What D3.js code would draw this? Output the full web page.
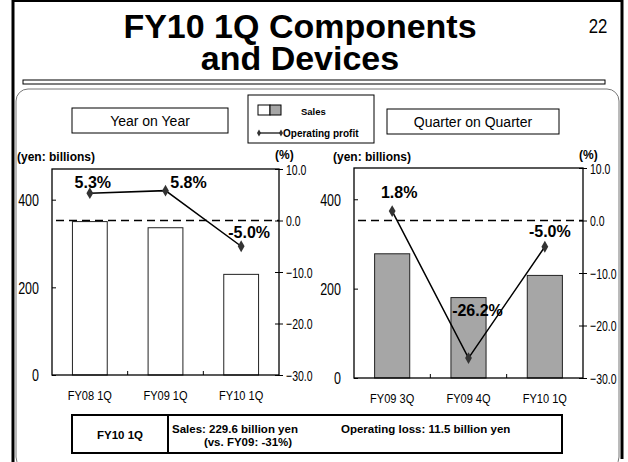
<!DOCTYPE html>
<html>
<head>
<meta charset="utf-8">
<script src="https://cdn.jsdelivr.net/npm/d3@7"></script>
<style>
  body { margin: 0; background: #fff; }
  svg { display: block; font-family: "Liberation Sans", Arial, sans-serif; }
  .num { font-family: "Liberation Sans", Arial, sans-serif; font-size: 16px; }
  .bold { font-weight: bold; }
</style>
</head>
<body>
<svg id="slide" width="628" height="462"></svg>
<script>
// Data
const yoyCategories = ["FY08 1Q", "FY09 1Q", "FY10 1Q"];
const yoySales = [350, 336, 229.6];
const yoyProfit = [5.3, 5.8, -5.0];

const qoqCategories = ["FY09 3Q", "FY09 4Q", "FY10 1Q"];
const qoqSales = [278, 180, 229.6];
const qoqProfit = [1.8, -26.2, -5.0];

const salesTicks = [0, 200, 400];
const pctTicks = [10, 0, -10, -20, -30];
const salesMax = 470;

let svg = d3.select("#slide");

// squeeze a text horizontally, like the narrow font of the original
function narrow(sel, f) {
    sel.each(function() {
        let len = this.getComputedTextLength();
        d3.select(this).attr("textLength", len * f).attr("lengthAdjust", "spacingAndGlyphs");
    });
}

// slide frame
svg.append("line").attr("x1", 12).attr("x2", 623).attr("y1", 1).attr("y2", 1)
    .attr("stroke", "#000").attr("stroke-width", 2);
svg.append("line").attr("x1", 13).attr("x2", 13).attr("y1", 0).attr("y2", 462)
    .attr("stroke", "#000").attr("stroke-width", 3);
svg.append("line").attr("x1", 622).attr("x2", 622).attr("y1", 0).attr("y2", 459)
    .attr("stroke", "#000").attr("stroke-width", 3);

// title
svg.append("text").attr("x", 300).attr("y", 38).attr("text-anchor", "middle")
    .attr("class", "bold").style("font-size", "33px").text("FY10 1Q Components").call(narrow, 1.03);
svg.append("text").attr("x", 300).attr("y", 70).attr("text-anchor", "middle")
    .attr("class", "bold").style("font-size", "33px").text("and Devices").call(narrow, 1.03);
svg.append("text").attr("x", 598).attr("y", 33).attr("text-anchor", "middle")
    .style("font-size", "21px").text("22").call(narrow, 0.8);

// bar under the title
svg.append("rect").attr("x", 23).attr("y", 80).attr("width", 582).attr("height", 4)
    .attr("fill", "#fff").attr("stroke", "#000").attr("stroke-width", 1);

// rounded panel
svg.append("rect").attr("x", 16).attr("y", 89).attr("width", 603).attr("height", 380)
    .attr("rx", 12).attr("fill", "none").attr("stroke", "#777").attr("stroke-width", 1);

// header boxes
function labelBox(x, y, w, h, txt) {
    svg.append("rect").attr("x", x).attr("y", y).attr("width", w).attr("height", h)
        .attr("fill", "#fff").attr("stroke", "#000").attr("stroke-width", 1);
    svg.append("text").attr("x", x + w / 2).attr("y", y + h / 2 + 5)
        .attr("text-anchor", "middle").style("font-size", "14px").text(txt);
}
labelBox(72, 108, 156, 25, "Year on Year");
labelBox(387, 109, 172, 25, "Quarter on Quarter");

// legend
let lg = svg.append("g");
lg.append("rect").attr("x", 248).attr("y", 95).attr("width", 126).attr("height", 48)
    .attr("fill", "#fff").attr("stroke", "#000").attr("stroke-width", 1);
lg.append("rect").attr("x", 258).attr("y", 105).attr("width", 12).attr("height", 10)
    .attr("fill", "#fff").attr("stroke", "#000");
lg.append("rect").attr("x", 270).attr("y", 105).attr("width", 11).attr("height", 10)
    .attr("fill", "#a6a6a6").attr("stroke", "#000");
lg.append("text").attr("x", 301).attr("y", 115).attr("class", "bold")
    .style("font-size", "9.5px").text("Sales");
lg.append("line").attr("x1", 259).attr("x2", 281).attr("y1", 133).attr("y2", 133)
    .attr("stroke", "#000").attr("stroke-width", 1.2);
lg.selectAll(".ld").data([259, 281]).enter().append("path")
    .attr("transform", d => `translate(${d},133)`)
    .attr("d", d3.symbol(d3.symbolDiamond, 14)).attr("fill", "#333");
lg.append("text").attr("x", 283).attr("y", 137).attr("class", "bold")
    .style("font-size", "10px").text("Operating profit");

let pctLabel = d => (d < 0 ? "-" : "") + d3.format(".1f")(Math.abs(d)) + "%";
let pctTick = d => (d < 0 ? "\u2212" : "") + d3.format(".1f")(Math.abs(d));

// one chart panel
function drawChart(cfg) {
    let g = svg.append("g");
    let x = d3.scaleBand().domain(cfg.categories).range([cfg.left, cfg.right])
        .paddingInner(0).paddingOuter(0);
    let ySales = d3.scaleLinear().domain([0, salesMax]).range([cfg.bottom, cfg.top]);
    let yPct = d3.scaleLinear().domain([-30, 10]).range([cfg.bottom, cfg.top]);

    // unit labels
    g.append("text").attr("x", cfg.unitX).attr("y", 161).attr("class", "bold")
        .style("font-size", "12px").text("(yen: billions)");
    g.append("text").attr("x", cfg.right - 4).attr("y", 159).attr("class", "bold")
        .style("font-size", "12px").text("(%)");

    // bars
    let bw = x.bandwidth() * 0.46;
    g.selectAll(".bar").data(cfg.sales).enter().append("rect")
        .attr("class", "bar")
        .attr("x", (d, i) => x(cfg.categories[i]) + (x.bandwidth() - bw) / 2)
        .attr("y", d => ySales(d))
        .attr("width", bw)
        .attr("height", d => cfg.bottom - ySales(d))
        .attr("fill", cfg.barFill).attr("stroke", "#222").attr("stroke-width", 1);

    // plot frame
    g.append("rect").attr("x", cfg.left).attr("y", cfg.top)
        .attr("width", cfg.right - cfg.left).attr("height", cfg.bottom - cfg.top)
        .attr("fill", "none").attr("stroke", "#000").attr("stroke-width", 1.3);

    // zero line
    g.append("line").attr("x1", cfg.left + 4).attr("x2", cfg.right)
        .attr("y1", yPct(0)).attr("y2", yPct(0))
        .attr("stroke", "#000").attr("stroke-width", 1.5).attr("stroke-dasharray", "8,5");

    // left axis
    let la = g.append("g").attr("transform", `translate(${cfg.left},0)`)
        .call(d3.axisLeft(ySales).tickValues(salesTicks).tickSizeInner(-4).tickSizeOuter(0).tickPadding(13));
    la.select(".domain").remove();
    la.selectAll("line").attr("stroke", "#000");
    la.selectAll("text").attr("class", "num").attr("dy", "0.36em").call(narrow, 0.78);

    // right axis
    let ra = g.append("g").attr("transform", `translate(${cfg.right},0)`)
        .call(d3.axisRight(yPct).tickValues(pctTicks).tickSizeInner(4).tickSizeOuter(0).tickPadding(3)
            .tickFormat(pctTick));
    ra.select(".domain").remove();
    ra.selectAll("line").attr("x1", -4).attr("stroke", "#000");
    ra.selectAll("text").attr("class", "num").style("font-size", "15px")
        .attr("dy", "0.36em").call(narrow, 0.7);

    // category separators on the bottom
    g.selectAll(".sep").data(cfg.categories.slice(1)).enter().append("line")
        .attr("x1", d => x(d)).attr("x2", d => x(d))
        .attr("y1", cfg.bottom).attr("y2", cfg.bottom - 4)
        .attr("stroke", "#000");

    // category labels
    g.selectAll(".cat").data(cfg.categories).enter().append("text")
        .attr("x", d => x(d) + x.bandwidth() / 2)
        .attr("y", cfg.bottom + 25)
        .attr("text-anchor", "middle")
        .style("font-size", "13px")
        .text(d => d)
        .call(narrow, 0.85);

    // profit line
    let line = d3.line()
        .x((d, i) => x(cfg.categories[i]) + x.bandwidth() / 2)
        .y(d => yPct(d));
    g.append("path").datum(cfg.profit).attr("d", line)
        .attr("fill", "none").attr("stroke", "#000").attr("stroke-width", 1.5);
    g.selectAll(".pt").data(cfg.profit).enter().append("path")
        .attr("transform", (d, i) => `translate(${x(cfg.categories[i]) + x.bandwidth() / 2},${yPct(d)})`)
        .attr("d", d3.symbol(d3.symbolDiamond, 40)).attr("fill", "#333");

    // value labels
    g.selectAll(".vl").data(cfg.profit).enter().append("text")
        .attr("class", "bold")
        .attr("x", (d, i) => x(cfg.categories[i]) + x.bandwidth() / 2 + cfg.labelOffsets[i][0])
        .attr("y", (d, i) => yPct(d) + cfg.labelOffsets[i][1])
        .attr("text-anchor", "middle")
        .style("font-size", "16px")
        .text(pctLabel);
}

drawChart({
    categories: yoyCategories, sales: yoySales, profit: yoyProfit,
    left: 52, right: 279, top: 169, bottom: 375, unitX: 17,
    barFill: "#fff",
    labelOffsets: [[3, -5], [23, -3], [8, -8]]
});
drawChart({
    categories: qoqCategories, sales: qoqSales, profit: qoqProfit,
    left: 354, right: 583, top: 168, bottom: 378, unitX: 333,
    barFill: "#a6a6a6",
    labelOffsets: [[7, -13], [9, -42], [5, -10]]
});

// bottom summary box
let sb = svg.append("g");
sb.append("rect").attr("x", 72).attr("y", 415).attr("width", 490).attr("height", 38)
    .attr("fill", "#fff").attr("stroke", "#000").attr("stroke-width", 2);
sb.append("line").attr("x1", 168).attr("x2", 168).attr("y1", 415).attr("y2", 453)
    .attr("stroke", "#000").attr("stroke-width", 2);
sb.append("text").attr("x", 120).attr("y", 439).attr("text-anchor", "middle")
    .attr("class", "bold").style("font-size", "11.5px").text("FY10 1Q");
sb.append("text").attr("x", 172).attr("y", 433).attr("class", "bold")
    .style("font-size", "11.5px").text("Sales: 229.6 billion yen");
sb.append("text").attr("x", 248).attr("y", 446).attr("text-anchor", "middle").attr("class", "bold")
    .style("font-size", "11.5px").text("(vs. FY09: -31%)");
sb.append("text").attr("x", 341).attr("y", 433).attr("class", "bold")
    .style("font-size", "11.5px").text("Operating loss: 11.5 billion yen");
</script>
</body>
</html>
